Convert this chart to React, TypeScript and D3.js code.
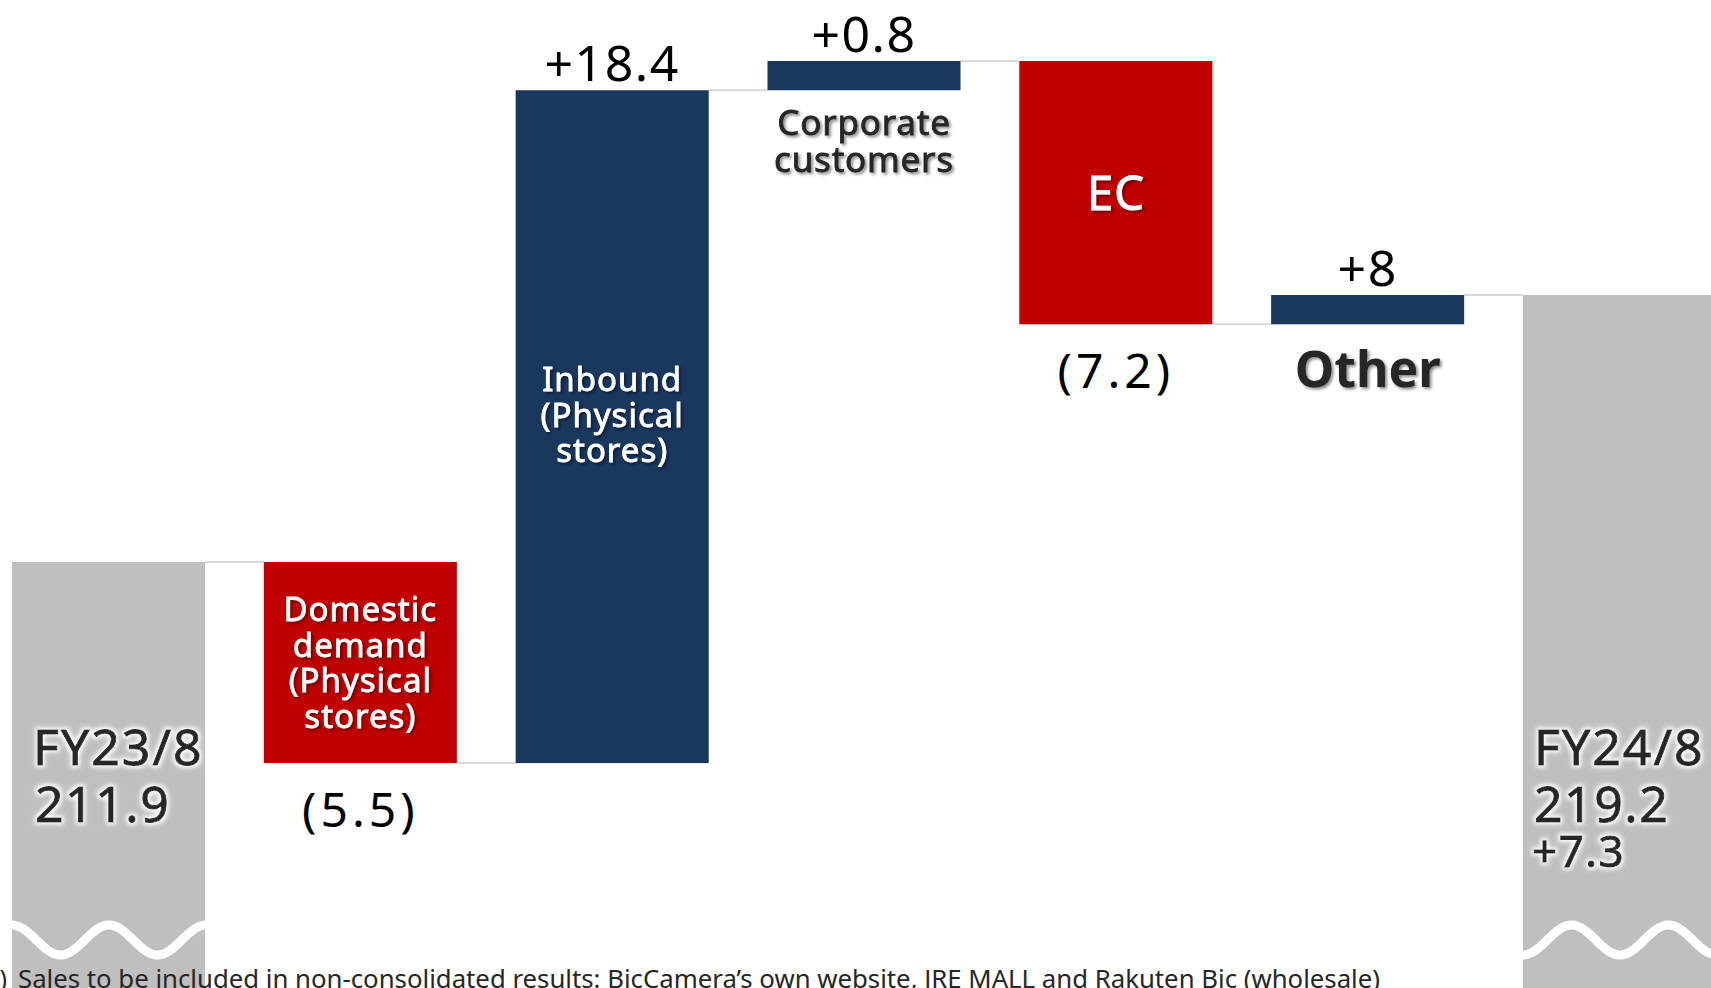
import * as d3 from 'd3'
import { useMemo } from 'react'

const WIDTH = 1711
const HEIGHT = 988
const FONT = "'Noto Sans', 'DejaVu Sans', sans-serif"

// start / end totals (billion yen)
const START_LABEL = 'FY23/8'
const START_VALUE = 211.9
const END_LABEL = 'FY24/8'
const END_VALUE = 219.2
const END_CHANGE_LABEL = '+7.3'
// value at the bottom edge of the broken axis
const AXIS_FLOOR = 200.25

const STEP_NAMES = [
  ['Domestic', 'demand', '(Physical', 'stores)'],
  ['Inbound', '(Physical', 'stores)'],
  ['Corporate', 'customers'],
  ['EC'],
  ['Other'],
]
const STEP_DELTAS = [-5.5, 18.4, 0.8, -7.2, 0.8]
const STEP_VALUE_LABELS = ['(5.5)', '+18.4', '+0.8', '(7.2)', '+8']
const STEP_NAME_INSIDE = [true, true, false, true, false]

const FOOTNOTE =
  'Sales to be included in non-consolidated results: BicCamera\u2019s own website, JRE MALL and Rakuten Bic (wholesale)'

const GRAY = '#bfbfbf'
const RED = '#c00000'
const NAVY = '#1a375e'
const DARK = '#262626'

export default function App() {
  const chart = useMemo(() => {
    const keys = d3.range(STEP_DELTAS.length + 2).map(String)
    const x = d3
      .scaleBand()
      .domain(keys)
      .range([12, 1716])
      .paddingInner(0.2335)
      .paddingOuter(0)
    const peak = d3.max(
      d3.cumsum(STEP_DELTAS).map((c) => START_VALUE + c)
    ) as number
    const y = d3.scaleLinear().domain([AXIS_FLOOR, peak]).range([HEIGHT, 61])
    const bw = x.bandwidth()

    let cum = START_VALUE
    const steps = STEP_DELTAS.map((delta, i) => {
      const from = cum
      const to = cum + delta
      cum = to
      return {
        key: String(i + 1),
        from,
        to,
        delta,
        names: STEP_NAMES[i],
        valueLabel: STEP_VALUE_LABELS[i],
        inside: STEP_NAME_INSIDE[i],
      }
    })

    // connector levels between consecutive bars
    const levels = [START_VALUE, ...steps.map((s) => s.to)]
    const connectors = levels.map((v, i) => ({
      x1: (x(String(i)) as number) + bw,
      x2: x(String(i + 1)) as number,
      y: y(v),
    }))

    const wave = (x0: number, phase: number) => {
      const pts = d3.range(0, bw + 1, 2).map((dx) => [
        x0 + dx,
        940 + phase * 15 * Math.cos((2 * Math.PI * dx) / 97),
      ])
      return d3.line()(pts as [number, number][])
    }

    return { x, y, bw, steps, connectors, wave }
  }, [])

  const { x, y, bw, steps, connectors, wave } = chart
  const x0 = x('0') as number
  const xEnd = x(String(STEP_DELTAS.length + 1)) as number

  return (
    <svg
      width={WIDTH}
      height={HEIGHT}
      style={{ position: 'absolute', left: 0, top: 0, display: 'block', background: '#fff' }}
      fontFamily={FONT}
    >
      <defs>
        <filter id="glow" x="-20%" y="-40%" width="140%" height="180%">
          <feMorphology operator="dilate" radius="1.5" in="SourceAlpha" result="d" />
          <feGaussianBlur in="d" stdDeviation="2" result="b" />
          <feFlood floodColor="#ffffff" />
          <feComposite in2="b" operator="in" result="g" />
          <feMerge>
            <feMergeNode in="g" />
            <feMergeNode in="SourceGraphic" />
          </feMerge>
        </filter>
        <filter id="shadow" x="-20%" y="-40%" width="140%" height="180%">
          <feDropShadow dx="2" dy="2" stdDeviation="1.5" floodColor="#000" floodOpacity="0.45" />
        </filter>
      </defs>

      {/* connectors */}
      {connectors.map((c, i) => (
        <line key={i} x1={c.x1} x2={c.x2} y1={c.y} y2={c.y} stroke="#d9d9d9" strokeWidth={2} />
      ))}

      {/* start total */}
      <rect x={x0} y={y(START_VALUE)} width={bw} height={y(AXIS_FLOOR) - y(START_VALUE)} fill={GRAY} />
      <path d={wave(x0, -1) ?? undefined} fill="none" stroke="#fff" strokeWidth={9} />

      {/* end total */}
      <rect x={xEnd} y={y(END_VALUE)} width={bw} height={y(AXIS_FLOOR) - y(END_VALUE)} fill={GRAY} />
      <path d={wave(xEnd, 1) ?? undefined} fill="none" stroke="#fff" strokeWidth={9} />

      {/* steps */}
      {steps.map((s) => {
        const bx = x(s.key) as number
        const top = y(Math.max(s.from, s.to))
        const bottom = y(Math.min(s.from, s.to))
        return (
          <rect key={s.key} x={bx} y={top} width={bw} height={bottom - top} fill={s.delta < 0 ? RED : NAVY} />
        )
      })}

      {/* value labels */}
      {steps.map((s) => {
        const cx = (x(s.key) as number) + bw / 2
        const top = y(Math.max(s.from, s.to))
        const bottom = y(Math.min(s.from, s.to))
        return s.delta < 0 ? (
          <text key={s.key} x={cx} y={bottom + 64} textAnchor="middle" fontSize={48} letterSpacing={4} fill="#000">
            {s.valueLabel}
          </text>
        ) : (
          <text key={s.key} x={cx} y={top - 9} textAnchor="middle" fontSize={50} letterSpacing={1.5} fill="#000">
            {s.valueLabel}
          </text>
        )
      })}

      {/* category labels */}
      {steps.map((s) => {
        const cx = (x(s.key) as number) + bw / 2
        const top = y(Math.max(s.from, s.to))
        const bottom = y(Math.min(s.from, s.to))
        if (s.inside) {
          const single = s.names.length === 1
          const fs = single ? 48 : 33
          const lh = single ? 0 : 35.5
          const mid = (top + bottom) / 2
          const offset = s.names.length === 3 ? -12 : 0
          const first = mid - ((s.names.length - 1) / 2) * lh + fs * 0.36 + offset
          return (
            <text
              key={s.key}
              textAnchor="middle"
              fontSize={fs}
              fill="#fff"
              stroke="#fff"
              strokeWidth={0.8}
              letterSpacing={single ? 0.5 : 1}
              filter="url(#shadow)"
            >
              {s.names.map((n, i) => (
                <tspan key={i} x={cx} y={first + i * lh}>
                  {n}
                </tspan>
              ))}
            </text>
          )
        }
        const big = s.names.length === 1
        return (
          <text
            key={s.key}
            textAnchor="middle"
            fontSize={big ? 50 : 35}
            fill={DARK}
            stroke={big ? 'none' : DARK}
            strokeWidth={0.8}
            fontWeight={big ? 700 : 400}
            letterSpacing={big ? 0 : 0.8}
            filter="url(#shadow)"
          >
            {s.names.map((n, i) => (
              <tspan key={i} x={cx} y={bottom + (big ? 63 : 45) + i * 37}>
                {n}
              </tspan>
            ))}
          </text>
        )
      })}

      {/* totals labels */}
      <g fill={DARK} stroke={DARK} strokeWidth={1} filter="url(#glow)">
        <text x={x0 + 21} y={765} fontSize={50} letterSpacing={2}>
          {START_LABEL}
        </text>
        <text x={x0 + 23} y={822} fontSize={50} letterSpacing={1.5}>
          {START_VALUE.toFixed(1)}
        </text>
        <text x={xEnd + 11} y={765} fontSize={50} letterSpacing={2}>
          {END_LABEL}
        </text>
        <text x={xEnd + 11} y={822} fontSize={50} letterSpacing={1.5}>
          {END_VALUE.toFixed(1)}
        </text>
        <text x={xEnd + 9} y={867} fontSize={44} letterSpacing={1.5}>
          {END_CHANGE_LABEL}
        </text>
      </g>

      {/* footnote */}
      <text y={988} fontSize={25} fill={DARK}>
        <tspan x={7} textAnchor="end">(*)</tspan>
      </text>
      <text x={18} y={988} fontSize={25} fill={DARK} textLength={1362} lengthAdjust="spacingAndGlyphs">
        {FOOTNOTE}
      </text>
    </svg>
  )
}
